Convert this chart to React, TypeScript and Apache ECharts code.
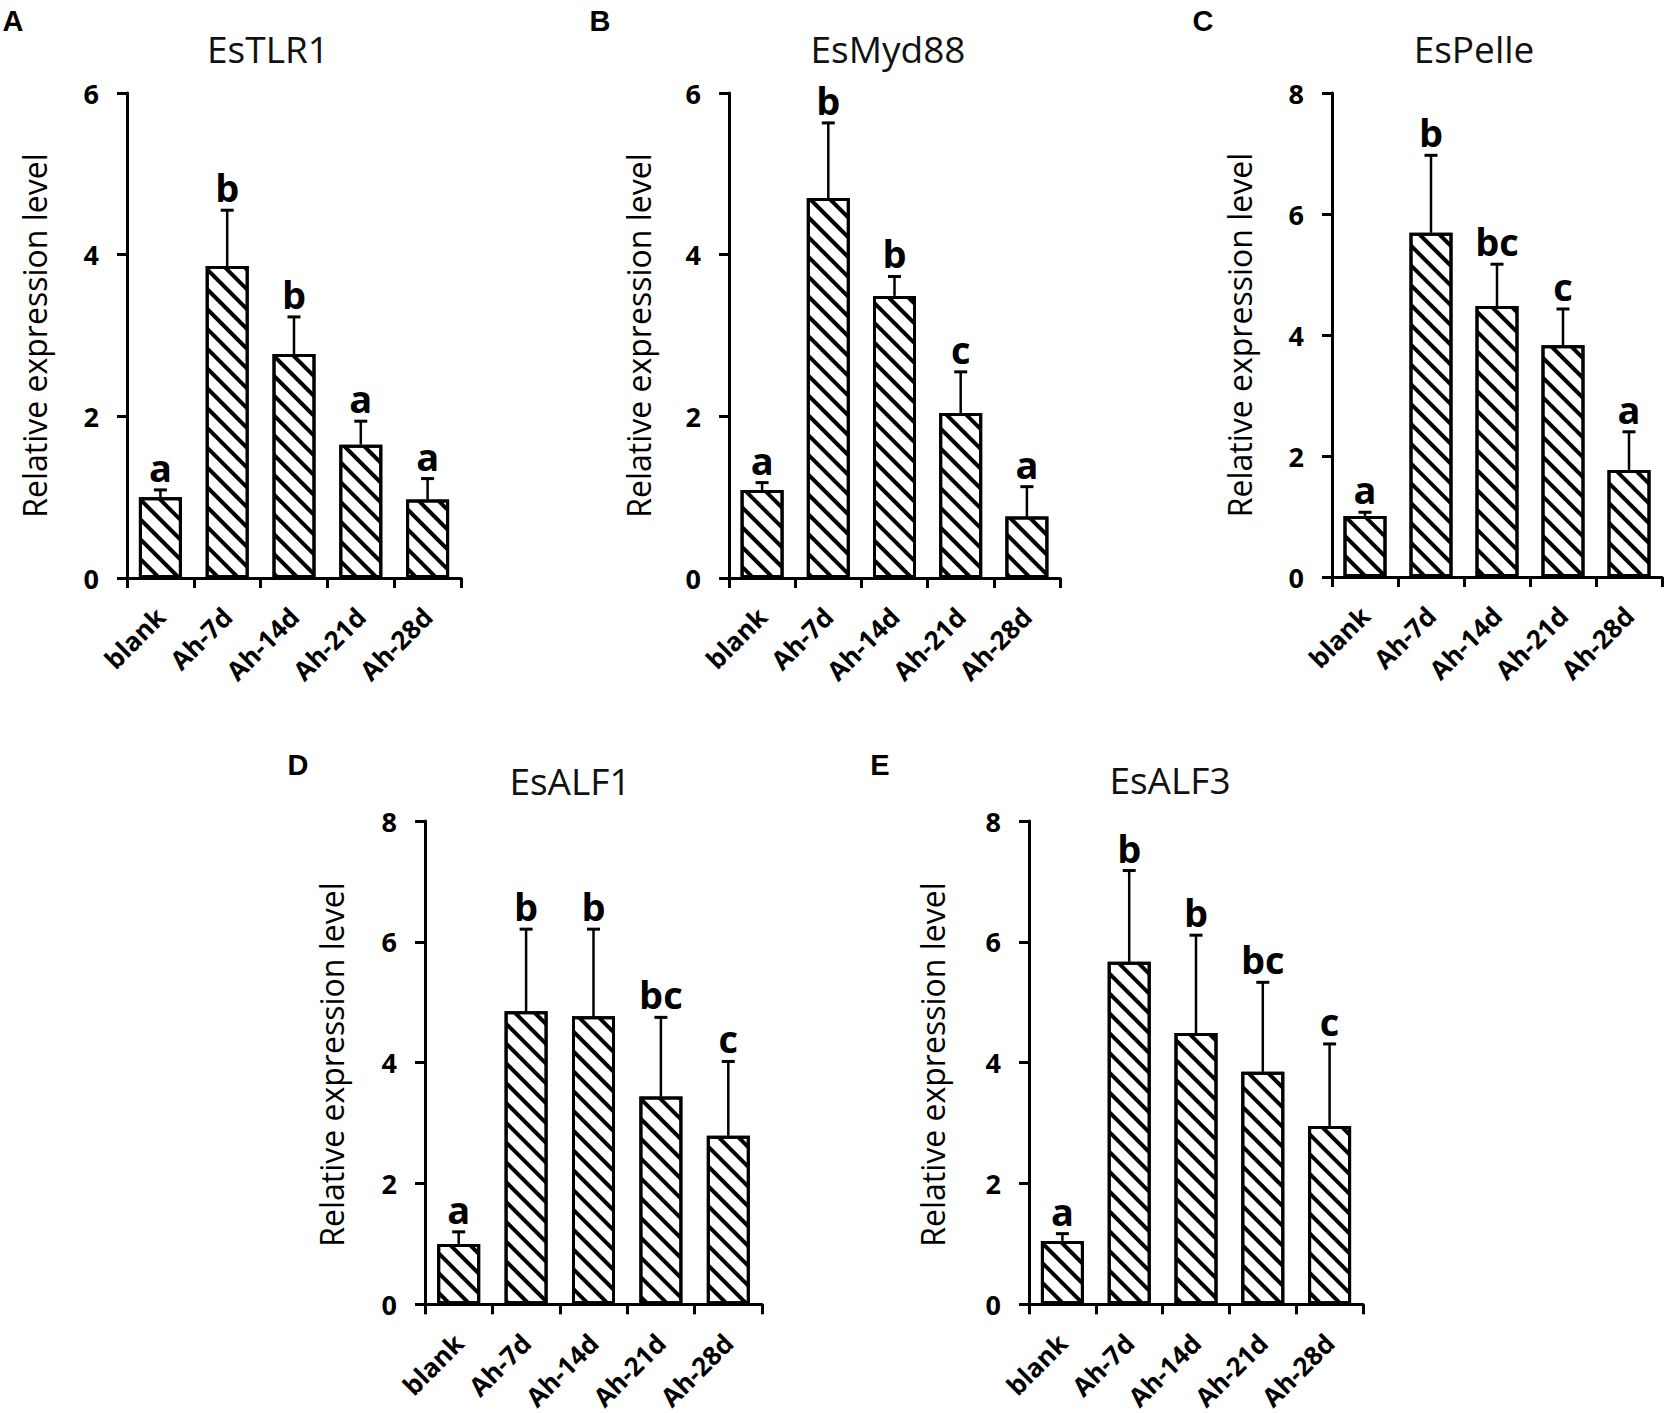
import React, { useEffect, useRef } from "react";
import * as echarts from "echarts";

const categories = ["blank", "Ah-7d", "Ah-14d", "Ah-21d", "Ah-28d"];

const tlr1Mean = [1.0, 3.86, 2.77, 1.65, 0.97];
const tlr1Err = [0.09, 0.69, 0.46, 0.29, 0.26];
const tlr1Sig = ["a", "b", "b", "a", "a"];

const myd88Mean = [1.09, 4.7, 3.49, 2.04, 0.76];
const myd88Err = [0.09, 0.93, 0.24, 0.51, 0.37];
const myd88Sig = ["a", "b", "b", "c", "a"];

const pelleMean = [1.01, 5.69, 4.48, 3.83, 1.77];
const pelleErr = [0.06, 1.28, 0.69, 0.6, 0.63];
const pelleSig = ["a", "b", "bc", "c", "a"];

const alf1Mean = [1.0, 4.85, 4.77, 3.44, 2.79];
const alf1Err = [0.2, 1.36, 1.44, 1.31, 1.23];
const alf1Sig = ["a", "b", "b", "bc", "c"];

const alf3Mean = [1.05, 5.67, 4.49, 3.85, 2.95];
const alf3Err = [0.12, 1.51, 1.62, 1.48, 1.36];
const alf3Sig = ["a", "b", "b", "bc", "c"];

const yMax = [6, 6, 8, 8, 8];
const panelTitles = ["EsTLR1", "EsMyd88", "EsPelle", "EsALF1", "EsALF3"];
const panelLetters = ["A", "B", "C", "D", "E"];
const yAxisName = "Relative expression level";

const FONT = '"Open Sans", "Noto Sans", sans-serif';

export default function App() {
  const ref = useRef<HTMLDivElement>(null);

  useEffect(() => {
    if (!ref.current) return;
    const chart = echarts.init(ref.current, null, { renderer: "svg" });

    const means = [tlr1Mean, myd88Mean, pelleMean, alf1Mean, alf3Mean];
    const errs = [tlr1Err, myd88Err, pelleErr, alf1Err, alf3Err];
    const sigs = [tlr1Sig, myd88Sig, pelleSig, alf1Sig, alf3Sig];

    const grids = [
      { left: 127, top: 93, width: 334, height: 485 },
      { left: 729, top: 93, width: 331, height: 485 },
      { left: 1332, top: 93, width: 330, height: 484 },
      { left: 425, top: 821, width: 337, height: 487 },
      { left: 1029, top: 821, width: 334, height: 487 },
    ];
    const titlePos = [
      [268, 48],
      [888, 48],
      [1474, 48],
      [570, 780],
      [1170, 779],
    ];
    const letterPos = [
      [13, 21],
      [600, 21],
      [1203, 21],
      [298, 765],
      [880, 765],
    ];
    const yNameX = [34, 638, 1239, 331, 932];

    const xAxes: any[] = [];
    const yAxes: any[] = [];
    const series: any[] = [];
    const graphics: any[] = [];

    grids.forEach((g, p) => {
      xAxes.push({
        type: "category",
        gridIndex: p,
        data: categories,
        boundaryGap: true,
        axisLine: { show: true, lineStyle: { color: "#000", width: 3 } },
        axisTick: { show: true, length: 10, alignWithLabel: false, lineStyle: { color: "#000", width: 3 } },
        axisLabel: {
          interval: 0,
          rotate: 45,
          margin: 34,
          color: "#000",
          fontWeight: "bold",
          fontSize: 26,
          fontFamily: FONT,
        },
        splitLine: { show: false },
      });
      yAxes.push({
        type: "value",
        gridIndex: p,
        min: 0,
        max: yMax[p],
        interval: 2,
        axisLine: { show: true, lineStyle: { color: "#000", width: 3 } },
        axisTick: { show: true, length: 10, lineStyle: { color: "#000", width: 3 } },
        axisLabel: {
          margin: 28,
          color: "#000",
          fontWeight: "bold",
          fontSize: 27,
          fontFamily: FONT,
        },
        splitLine: { show: false },
      });
      series.push({
        type: "bar",
        xAxisIndex: p,
        yAxisIndex: p,
        data: means[p],
        barWidth: 43,
        itemStyle: {
          color: "#fff",
          borderColor: "#000",
          borderWidth: 3,
          decal: {
            symbol: "rect",
            symbolSize: 1,
            color: "#000",
            dashArrayX: [1, 0],
            dashArrayY: [3.5, 9.5],
            rotation: Math.PI / 4,
          },
        },
        z: 2,
      });
      const sig = sigs[p];
      series.push({
        type: "custom",
        xAxisIndex: p,
        yAxisIndex: p,
        z: 5,
        clip: false,
        encode: { x: 0, y: 1 },
        data: categories.map((c, i) => [i, means[p][i], errs[p][i]]),
        renderItem: (params: any, api: any) => {
          const i = api.value(0);
          const m = api.value(1);
          const e = api.value(2);
          const base = api.coord([i, m]);
          const top = api.coord([i, m + e]);
          const half = 6.5;
          return {
            type: "group",
            children: [
              {
                type: "line",
                shape: { x1: base[0], y1: base[1], x2: top[0], y2: top[1] },
                style: { stroke: "#000", lineWidth: 2.5 },
              },
              {
                type: "line",
                shape: { x1: top[0] - half, y1: top[1], x2: top[0] + half, y2: top[1] },
                style: { stroke: "#000", lineWidth: 3 },
              },
              {
                type: "text",
                x: top[0],
                y: top[1] - 4,
                style: {
                  text: sig[params.dataIndex],
                  fill: "#000",
                  fontSize: 38,
                  fontWeight: "bold",
                  fontFamily: FONT,
                  textAlign: "center",
                  textVerticalAlign: "bottom",
                },
              },
            ],
          };
        },
      });

      graphics.push({
        type: "text",
        x: titlePos[p][0],
        y: titlePos[p][1],
        style: {
          text: panelTitles[p],
          fill: "#111",
          fontSize: 37,
          fontFamily: FONT,
          textAlign: "center",
          textVerticalAlign: "middle",
        },
      });
      graphics.push({
        type: "text",
        x: letterPos[p][0],
        y: letterPos[p][1],
        style: {
          text: panelLetters[p],
          fill: "#000",
          fontSize: 29,
          fontWeight: "bold",
          fontFamily: '"Liberation Sans", Arial, sans-serif',
          textAlign: "center",
          textVerticalAlign: "middle",
        },
      });
      graphics.push({
        type: "text",
        x: yNameX[p],
        y: g.top + g.height / 2,
        rotation: Math.PI / 2,
        style: {
          text: yAxisName,
          fill: "#000",
          fontSize: 32,
          fontFamily: FONT,
          textAlign: "center",
          textVerticalAlign: "middle",
        },
      });
    });

    chart.setOption({
      animation: false,
      backgroundColor: "#fff",
      grid: grids.map((g) => ({ ...g, containLabel: false })),
      xAxis: xAxes,
      yAxis: yAxes,
      series,
      graphic: graphics,
    });

    return () => chart.dispose();
  }, []);

  return (
    <div
      ref={ref}
      style={{ position: "absolute", left: 0, top: 0, width: 1670, height: 1413, background: "#fff" }}
    />
  );
}
